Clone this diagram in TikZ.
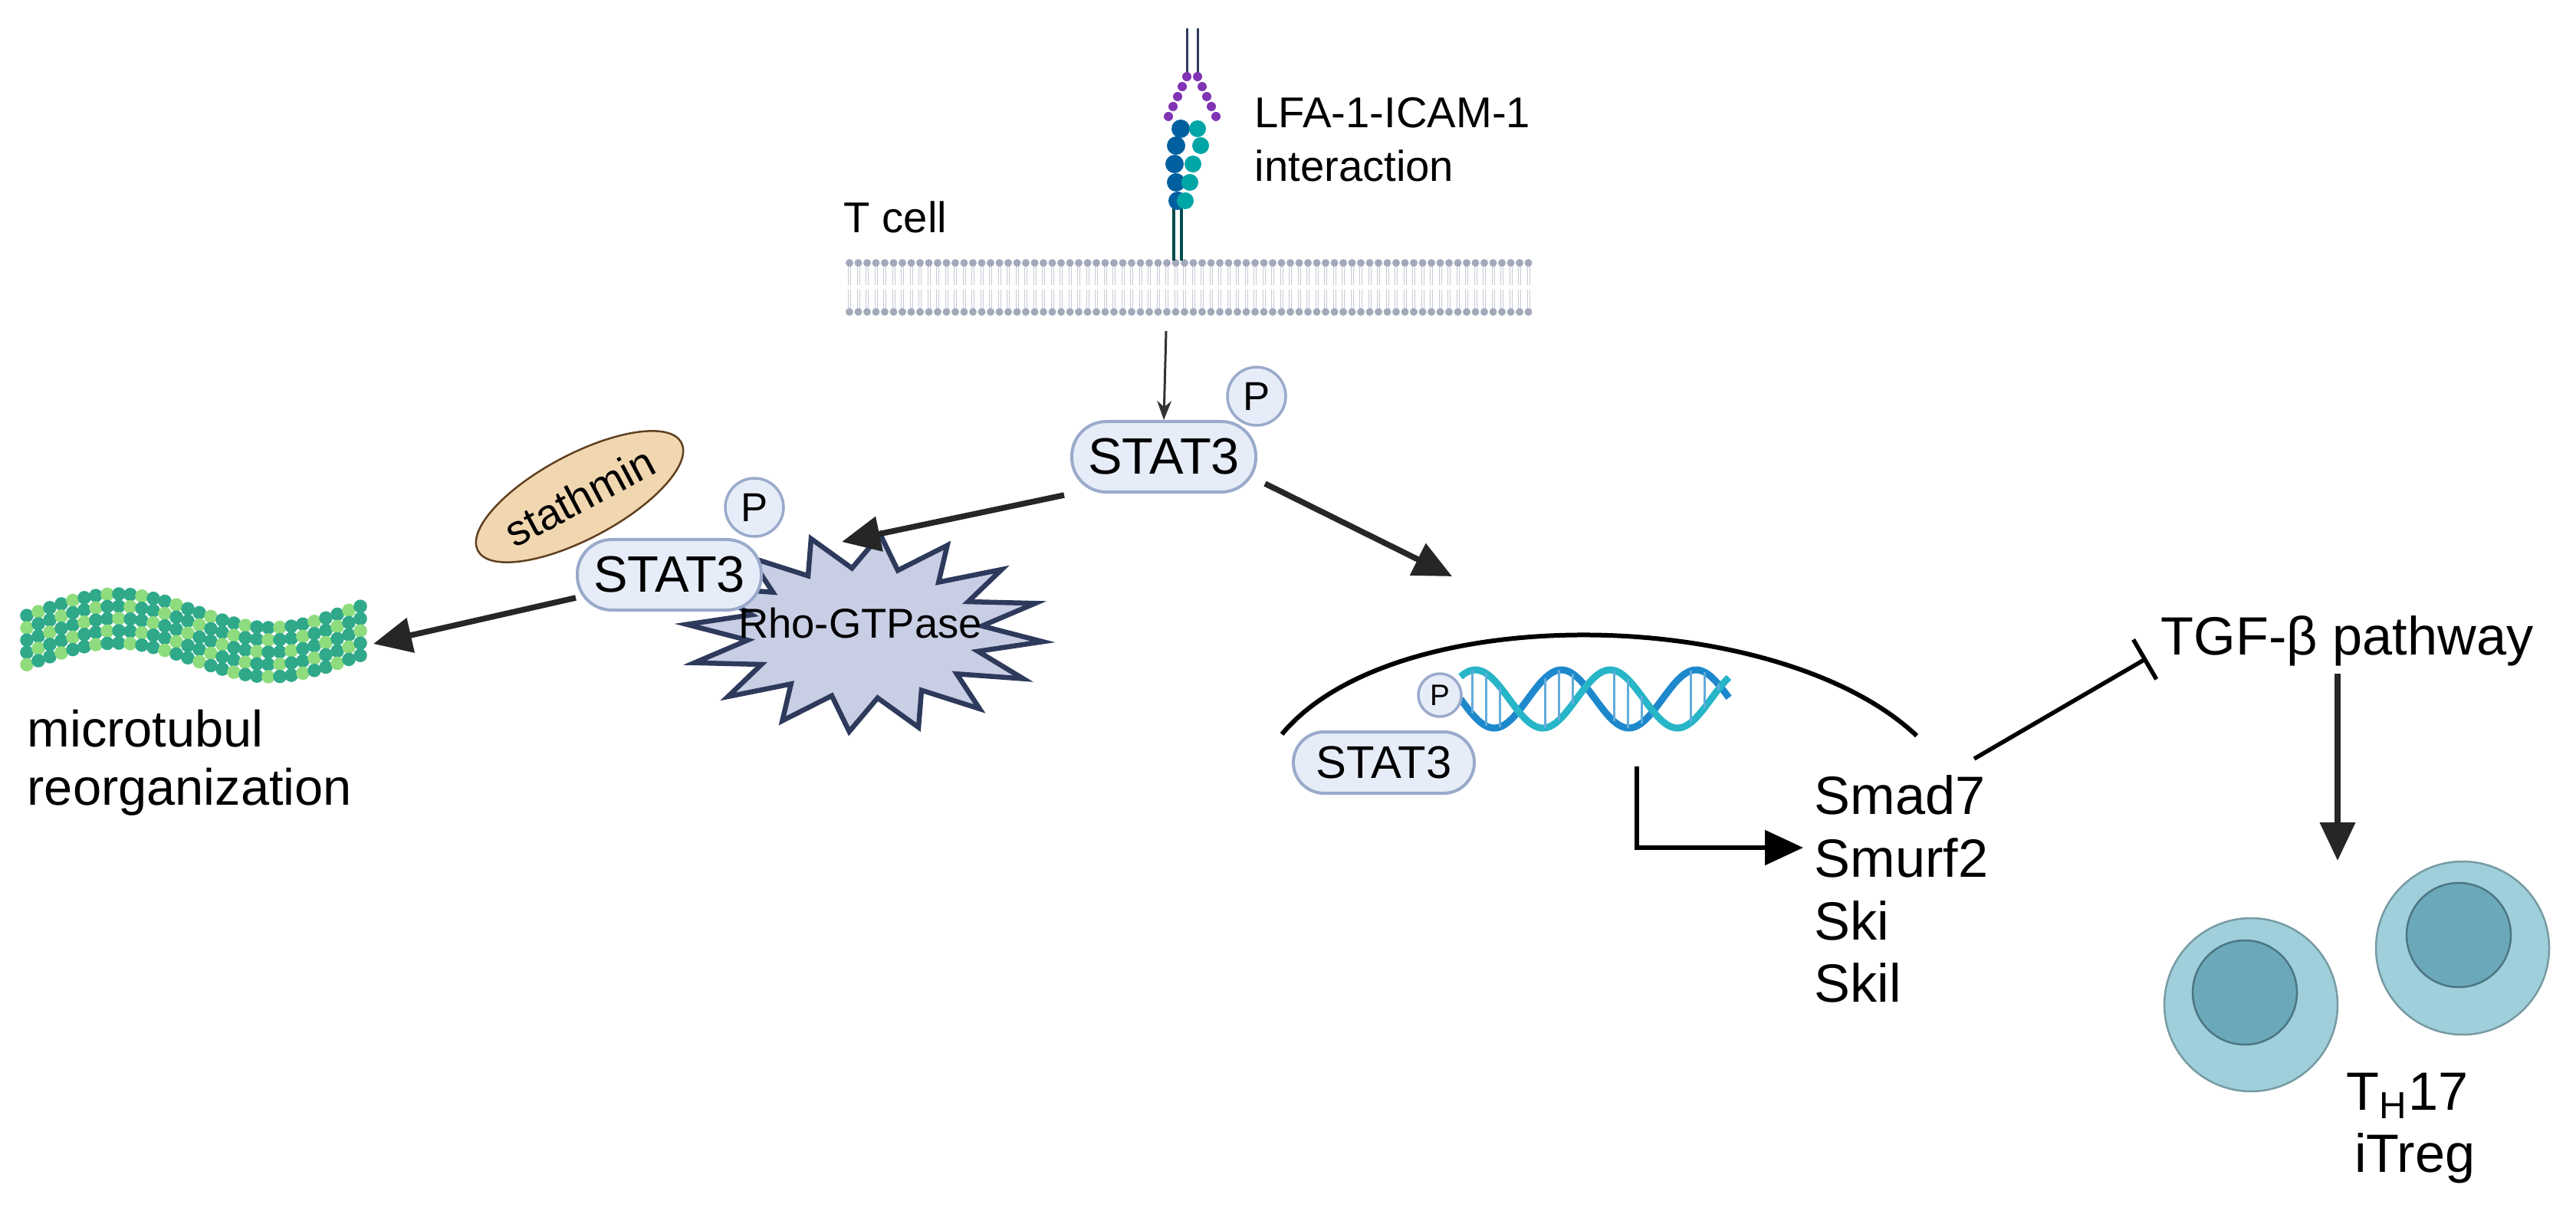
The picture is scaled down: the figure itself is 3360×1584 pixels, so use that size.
\documentclass[tikz,border=0pt]{standalone}
\usepackage{fontspec}
\setmainfont{Liberation Sans}
\usetikzlibrary{arrows.meta,shapes.geometric}
\definecolor{boxfill}{HTML}{E6EDF8}
\definecolor{boxdraw}{HTML}{9AAACB}
\definecolor{starfill}{HTML}{C8CEE4}
\definecolor{stardraw}{HTML}{2E3A5C}
\definecolor{cellout}{HTML}{9FCFDA}
\definecolor{cellin}{HTML}{6BA9BA}
\definecolor{memb}{HTML}{A3A9BA}
\definecolor{tubeA}{HTML}{2FA98A}
\definecolor{tubeB}{HTML}{8FDC7E}
\definecolor{dnaA}{HTML}{1E88CC}
\definecolor{dnaB}{HTML}{27B5C8}
\definecolor{stathfill}{HTML}{F1D7B0}
\tikzset{
  stat/.style={draw=boxdraw,fill=boxfill,line width=0.4mm,rounded corners=4.5mm,minimum width=24mm,minimum height=9.2mm,inner sep=0pt,font=\fontsize{19}{21}\selectfont},
  pp/.style={circle,draw=boxdraw,fill=boxfill,line width=0.35mm,minimum size=7.6mm,inner sep=0pt,font=\fontsize{15}{16}\selectfont},
  big/.style={-{Triangle[length=5mm,width=4.5mm]},line width=0.75mm,draw=black!85},
  lbl/.style={inner sep=0pt},
}
\begin{document}
\begin{tikzpicture}[x=0.1mm,y=-0.1mm]
\useasboundingbox (0,0) rectangle (3360,1584);
% membrane
\foreach \i in {0,...,77}{
  \pgfmathsetmacro\xx{1108+11.5*\i}
  \draw[memb!60,line width=0.1mm] (\xx-1.5,347)--(\xx-1.5,372) (\xx+1.5,347)--(\xx+1.5,372)
     (\xx-1.5,378)--(\xx-1.5,403) (\xx+1.5,378)--(\xx+1.5,403);
  \fill[memb] (\xx,343) circle (5);
  \fill[memb] (\xx,407) circle (5);
}
\node[lbl,font=\fontsize{16}{18}\selectfont] (tcell) at (1168,283) {T cell};
% receptor
\draw[stardraw,line width=0.3mm] (1548,37)--(1548,100) (1562,37)--(1562,100);
\foreach \k in {0,...,4}{
  \fill[violet!75!blue!80] ({1548-6*\k},{100+13*\k}) circle (6);
  \fill[violet!75!blue!80] ({1562+6*\k},{100+13*\k}) circle (6);
}
\draw[teal!60!black,line width=0.35mm] (1531,340)--(1531,260) (1541,340)--(1541,260);
\foreach \yy/\xa/\xb in {168/1540/1562,190/1534/1566,214/1532/1556,238/1534/1552,262/1536/1546}{
  \fill[teal!75!blue] (\xa,\yy) circle (12);
  \fill[teal!70!cyan] (\xb,\yy) circle (11);
}
\node[lbl,anchor=west,align=left,font=\fontsize{16}{20}\selectfont] (lfa) at (1636,182) {LFA-1-ICAM-1\\interaction};
% main STAT3
\coordinate (rc) at (1521,432);
\node[stat] (s1) at (1518,596) {STAT3};
\node[pp] (p1) at (1639,517) {P};
\draw[-{Stealth[length=2.5mm]},line width=0.3mm,black!80] (rc) -- (s1.north);
% left complex
\path[fill=starfill,draw=stardraw,line width=0.65mm]
  plot[samples at={0,11.25,...,349}] ({1128+233*(1-0.34*mod(round(\x/11.25),2))*cos(\x+5)},{826+129*(1-0.34*mod(round(\x/11.25),2))*sin(\x+5)}) -- cycle;
\node[lbl,font=\fontsize{15.5}{17}\selectfont] (rho) at (1122,813) {Rho-GTPase};
\node[ellipse,draw=brown!50!black,fill=stathfill,line width=0.25mm,minimum width=25mm,minimum height=11mm,rotate=28,inner sep=0pt,font=\fontsize{16}{18}\selectfont] (stath) at (756,648) {stathmin};
\node[stat] (s2) at (873,750) {STAT3};
\node[pp] (p2) at (984,662) {P};
\coordinate (rhotop) at (1098,707);
\draw[big] (s1.west) ++(-8,50) -- (rhotop);
% microtubule
\foreach \c in {0,...,29}{
  \foreach \r in {-2,...,2}{
    \pgfmathsetmacro\xx{35+15*\c}
    \pgfmathsetmacro\yy{829+16*\r+22*sin(0.9*(\xx-253))}
    \pgfmathtruncatemacro\parity{mod(\c+\r+10,3)}
    \ifnum\parity=0 \fill[tubeB] (\xx,\yy) circle (8.8); \else \fill[tubeA] (\xx,\yy) circle (8.8); \fi
  }
}
\coordinate (mt) at (487,840);
\draw[big] (s2.south west) ++(0,-18) -- (mt);
\node[lbl,anchor=west,align=left,font=\fontsize{19}{21.5}\selectfont] (mtl) at (35,995) {microtubul\\reorganization};
% nucleus
\draw[line width=0.6mm] (1672,958) .. controls (1820,780) and (2320,790) .. (2500,960);
\coordinate (nuc) at (1894,752);
\draw[big] (1650,631) -- (nuc);
% DNA
\draw[dnaA,line width=0.9mm,domain=0:350,samples=80] plot ({1905+\x},{912+38*sin(\x*2.05)});
\draw[dnaB,line width=0.9mm,domain=0:350,samples=80] plot ({1905+\x},{912-38*sin(\x*2.05+50)});
\foreach \t in {15,33,51,110,128,146,200,218,236,300,318,336}{
  \draw[dnaA!70,line width=0.3mm] ({1905+\t},{912+38*sin(\t*2.05)}) -- ({1905+\t},{912-38*sin(\t*2.05+50)});
}
\node[stat,minimum width=23.6mm,minimum height=8mm,rounded corners=4mm,font=\fontsize{17}{19}\selectfont] (s3) at (1805,995) {STAT3};
\node[pp,minimum size=5.6mm,font=\fontsize{11}{12}\selectfont] (p3) at (1878,907) {P};
\coordinate (tss) at (2135,1000);
\node[lbl,anchor=west,align=left,font=\fontsize{20}{23.3}\selectfont] (genes) at (2366,1160) {Smad7\\Smurf2\\Ski\\Skil};
\draw[-{Triangle[length=5mm,width=4.5mm]},line width=0.55mm] (tss) |- (2352,1106);
% TGF
\node[lbl,anchor=west,font=\fontsize{20}{22}\selectfont] (tgf) at (2818,836) {TGF-β pathway};
\draw[-{Bar[width=6mm]},line width=0.55mm] (2575,990) -- (2800,859);
% cells
\node[circle,fill=cellout,draw=cellout!75!black,line width=0.25mm,minimum size=22.6mm] (c1) at (2936,1311) {};
\node[circle,fill=cellin,draw=cellin!70!black,line width=0.25mm,minimum size=13.6mm] (n1) at (2928,1295) {};
\node[circle,fill=cellout,draw=cellout!75!black,line width=0.25mm,minimum size=22.6mm] (c2) at (3212,1237) {};
\node[circle,fill=cellin,draw=cellin!70!black,line width=0.25mm,minimum size=13.6mm] (n2) at (3207,1220) {};
\draw[big] (3049,879) -- (3049,1123);
\node[lbl,align=center,font=\fontsize{20}{23}\selectfont] (th) at (3140,1472) {T\textsubscript{H}17\\\ iTreg};
\end{tikzpicture}
\end{document}
